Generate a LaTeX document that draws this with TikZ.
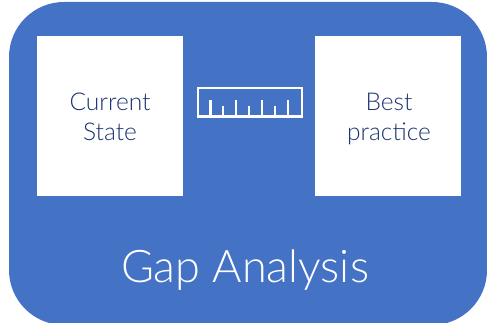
\documentclass[tikz,border=0pt]{standalone}
\usepackage{fontspec}
\setmainfont{Lato Light}
\definecolor{gapblue}{HTML}{4472C4}
\definecolor{gapnavy}{HTML}{1C3470}
\tikzset{
    statebox/.style={fill=white, minimum width=146pt, minimum height=160pt, inner sep=0pt},
    statetext/.style={text=gapnavy, inner sep=0pt, align=center, font=\fontsize{24.5}{30}\selectfont},
    rulerline/.style={draw=white, line width=2.4pt},
}

\begin{document}
\begin{tikzpicture}[x=1pt, y=-1pt]
    \useasboundingbox (0, 0) rectangle (487, 323);
    \fill[gapblue, rounded corners=55pt] (9, 2) rectangle (487, 325);

    \node[statebox] (current) at (110, 116) {};
    \node[statebox] (best) at (388, 116) {};
    \node[statetext] (currenttext) at (110, 120) {\strut Current\\\strut State};
    \node[statetext] (besttext) at (389, 120) {\strut Best\\\strut practice};

    \node[text=white, font=\fontsize{45}{50}\selectfont] (title) at (245, 270) {Gap Analysis};

    \draw[rulerline] (198, 88) rectangle (302, 116.5);
    \foreach \x in {210.5, 236, 262, 288} {
        \draw[rulerline] (\x, 100) -- (\x, 116);
    }
    \foreach \x in {223, 249, 275} {
        \draw[rulerline] (\x, 106) -- (\x, 116);
    }
\end{tikzpicture}
\end{document}
